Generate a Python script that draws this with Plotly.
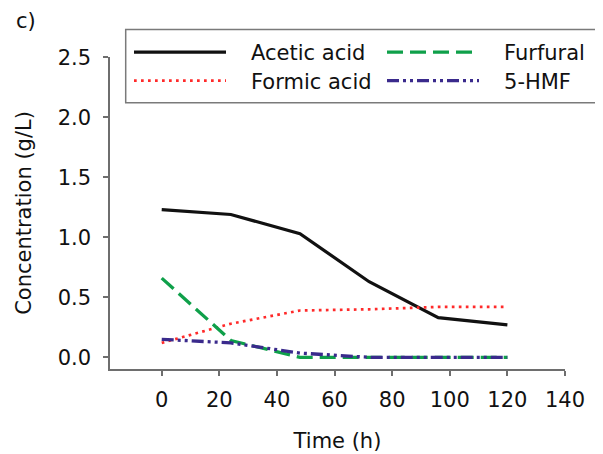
import plotly.graph_objects as go

# ---- data ----
time_h = [0, 24, 48, 72, 96, 120]
acetic_acid = [1.23, 1.19, 1.03, 0.63, 0.33, 0.27]
formic_acid = [0.12, 0.28, 0.39, 0.40, 0.42, 0.42]
furfural = [0.66, 0.14, 0.0, 0.0, 0.0, 0.0]
hmf = [0.15, 0.12, 0.035, 0.0, 0.0, 0.0]

x_ticks = [0, 20, 40, 60, 80, 100, 120, 140]
y_ticks = [0.0, 0.5, 1.0, 1.5, 2.0, 2.5]
y_tick_text = ["0.0", "0.5", "1.0", "1.5", "2.0", "2.5"]

FONT = "DejaVu Sans"
AXIS_GRAY = "#6e6e6e"
TEXT = "#111111"
NB = "\u00a0\u00a0\u00a0"

# page body has an 8px margin, so the figure is drawn 8px in from the corner
OFF = 8
W, H = 603 - OFF, 454 - OFF
ML, MR, MT, MB = 102, 38, 49, 85
PW, PH = W - ML - MR, H - MT - MB


def px_x(px):
    return (px - OFF - ML) / PW


def px_y(py):
    return (H - MB - (py - OFF)) / PH


fig = go.Figure()
fig.add_trace(go.Scatter(x=time_h, y=acetic_acid, mode="lines", name=NB + "Acetic acid",
                         line=dict(color="#111111", width=3.2), legend="legend"))
fig.add_trace(go.Scatter(x=time_h, y=formic_acid, mode="lines", name=NB + "Formic acid",
                         line=dict(color="#ff2a2a", width=2.7, dash="2.7px,4.3px"), legend="legend3"))
fig.add_trace(go.Scatter(x=time_h, y=furfural, mode="lines", name=NB + "Furfural",
                         line=dict(color="#0fa04a", width=3.3, dash="16px,7px"), legend="legend2"))
fig.add_trace(go.Scatter(x=time_h, y=hmf, mode="lines", name=NB + "5-HMF",
                         line=dict(color="#3a2a8c", width=3.3, dash="12px,4px,3px,4px,3px,4px"),
                         legend="legend4"))

axis_common = dict(
    showline=True, linecolor=AXIS_GRAY, linewidth=1.5,
    ticks="outside", ticklen=5, tickwidth=1.5, tickcolor=AXIS_GRAY,
    showgrid=False, zeroline=False,
    tickfont=dict(family=FONT, size=21, color=TEXT),
)


def legend_at(px, py):
    return dict(x=px_x(px), y=px_y(py), xanchor="left", yanchor="top",
                bgcolor="rgba(0,0,0,0)", borderwidth=0, itemwidth=92,
                font=dict(family=FONT, size=21, color=TEXT), tracegroupgap=0)


fig.update_layout(
    width=W, height=H,
    margin=dict(l=ML, r=MR, t=MT, b=MB, autoexpand=False),
    paper_bgcolor="white", plot_bgcolor="white",
    font=dict(family=FONT, size=21, color=TEXT),
    xaxis=dict(range=[-17.95, 140], tickvals=x_ticks, ticklabelstandoff=6,
               title=dict(text="Time (h)", font=dict(family=FONT, size=21, color=TEXT), standoff=22),
               **axis_common),
    yaxis=dict(range=[-0.0975, 2.5025], tickvals=y_ticks, ticktext=y_tick_text, ticklabelstandoff=8,
               title=dict(text="Concentration (g/L)", font=dict(family=FONT, size=21, color=TEXT),
                          standoff=20),
               **axis_common),
    legend=legend_at(129, 32),
    legend3=legend_at(129, 60.5),
    legend2=legend_at(382, 32),
    legend4=legend_at(382, 60.5),
    showlegend=True,
    shapes=[dict(type="rect", xref="paper", yref="paper",
                 x0=px_x(125.7), x1=px_x(640), y0=px_y(102.7), y1=px_y(29.5),
                 line=dict(color="#7a7a7a", width=1.5), fillcolor="rgba(0,0,0,0)", layer="above")],
    annotations=[dict(text="c)", xref="paper", yref="paper", x=px_x(14), y=px_y(21),
                      xanchor="left", yanchor="middle", showarrow=False,
                      font=dict(family=FONT, size=21, color=TEXT))],
)

fig.write_html("out.html")
